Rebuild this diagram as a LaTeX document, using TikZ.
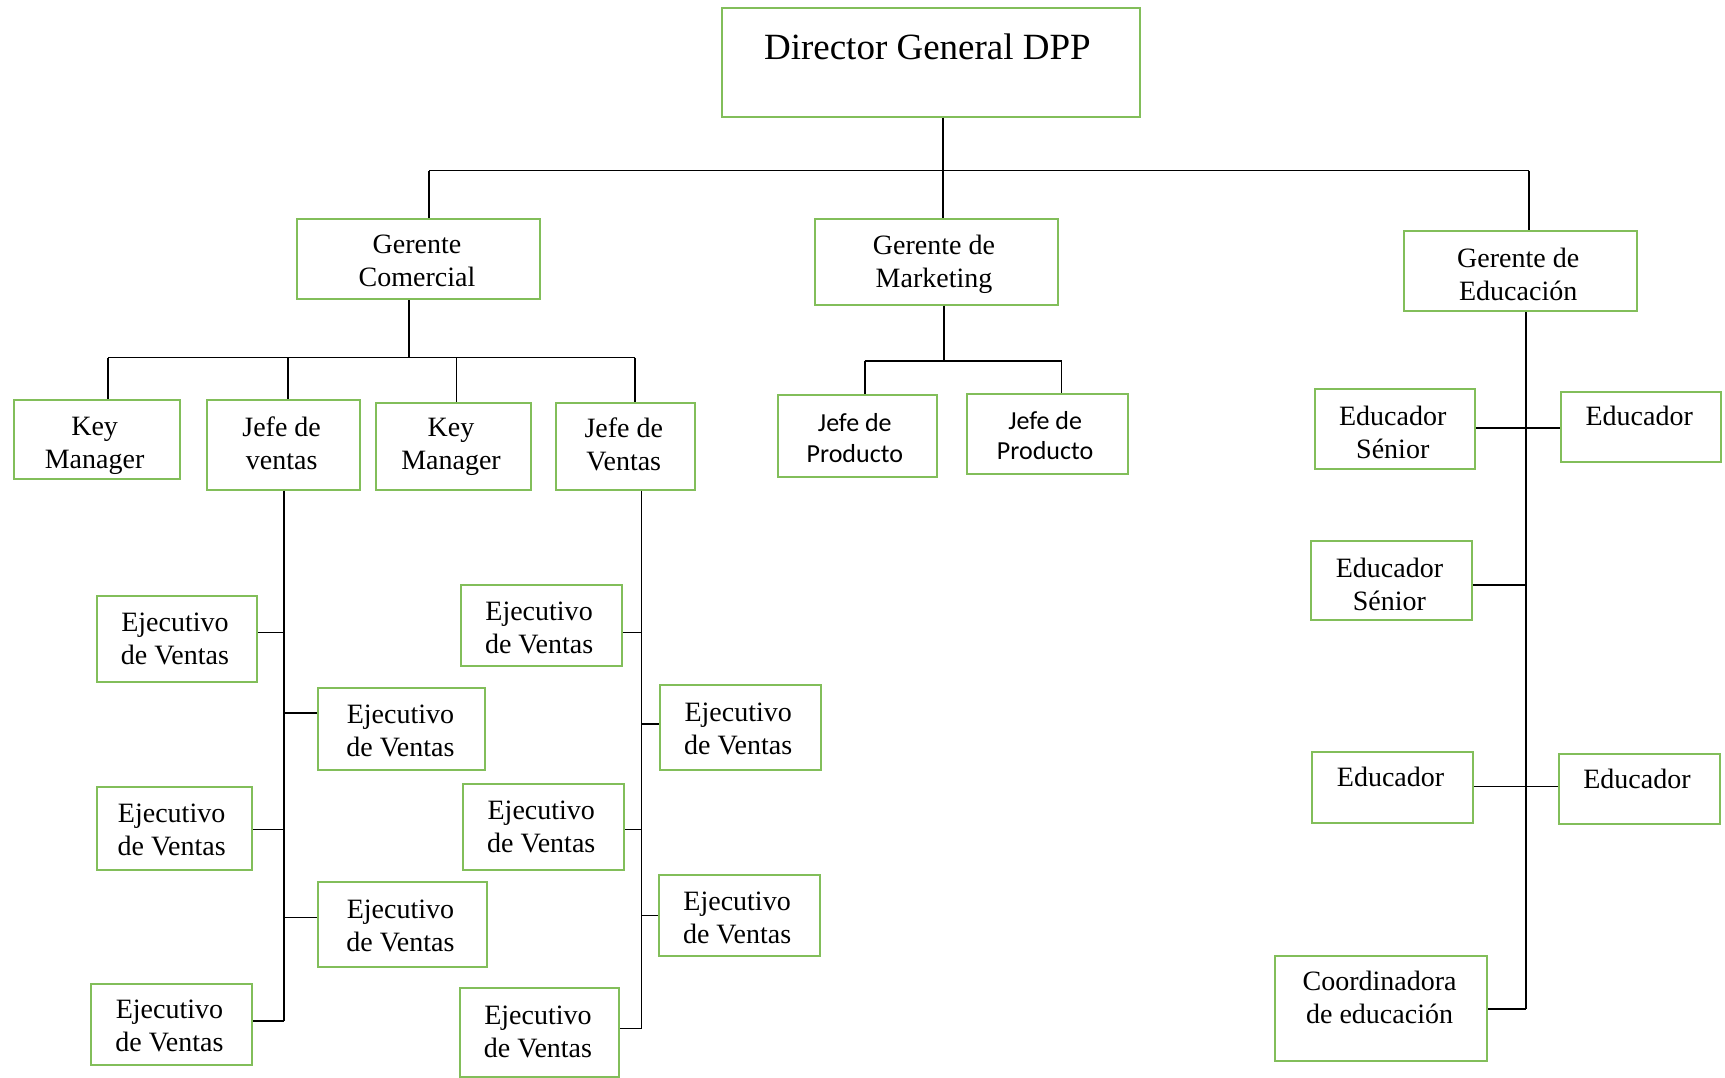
\documentclass[tikz,border=0pt]{standalone}
\usepackage{fontspec}
\setmainfont{Liberation Serif}
\newfontfamily\calib{Carlito}
\usetikzlibrary{fit}
\definecolor{bx}{RGB}{130,190,90}
\newcommand\bxn[5]{\node[box,fit={(#2,#3)(#4,#5)}] (#1) {};}
\begin{document}
\begin{tikzpicture}[x=0.55pt,y=-0.55pt,
 box/.style={draw=bx,line width=1pt,inner sep=0pt},
 txt/.style={align=center,font=\fontsize{14}{16.5}\selectfont,inner sep=0pt},
 stxt/.style={align=center,font=\calib\fontsize{13}{15.4}\selectfont,inner sep=0pt},
 ln/.style={line width=0.8pt,black}]
\useasboundingbox (0,0) rectangle (1568,979);
% boxes
\bxn{dir}{656}{7}{1036}{106}
\bxn{gc}{270}{199}{491}{272}
\bxn{gm}{741}{199}{962}{277}
\bxn{ge}{1276}{210}{1488}{283}
\bxn{km1}{13}{364}{164}{435}
\bxn{jv1}{188}{364}{327}{445}
\bxn{km2}{342}{366}{483}{445}
\bxn{jv2}{505}{366}{632}{445}
\bxn{jp1}{707}{359}{852}{434}
\bxn{jp2}{879}{358}{1025}{431}
\bxn{es1}{1195}{354}{1341}{426}
\bxn{ed1}{1419}{356}{1564}{420}
\bxn{es2}{1192}{492}{1338}{564}
\bxn{ed2}{1193}{684}{1339}{748}
\bxn{ed3}{1417}{685}{1563}{749}
\bxn{co}{1159}{869}{1352}{964}
\bxn{a1}{88}{542}{234}{620}
\bxn{a2}{289}{625}{441}{700}
\bxn{a3}{88}{715}{229}{791}
\bxn{a4}{289}{802}{443}{879}
\bxn{a5}{83}{894}{229}{968}
\bxn{b1}{419}{532}{565}{605}
\bxn{b2}{600}{623}{746}{700}
\bxn{b3}{421}{713}{567}{791}
\bxn{b4}{599}{795}{745}{869}
\bxn{b5}{418}{898}{563}{979}
% texts
\node[txt,font=\fontsize{18.5}{22}\selectfont] (dirt) at (843,43) {Director General DPP};
\node[txt] (gct) at (379,237) {Gerente\\Comercial};
\node[txt] (gmt) at (849,240) {Gerente de\\Marketing};
\node[txt] (get) at (1380,249) {Gerente de\\Educación};
\node[txt] (km1t) at (86,405) {Key\\Manager};
\node[txt] (jv1t) at (256,403) {Jefe de\\ventas};
\node[txt] (km2t) at (410,406) {Key\\Manager};
\node[txt] (jv2t) at (567,404) {Jefe de\\Ventas};
\node[stxt] (jp1t) at (777,398) {Jefe de\\Producto};
\node[stxt] (jp2t) at (950,396) {Jefe de\\Producto};
\node[txt] (es1t) at (1266,393) {Educador\\Sénior};
\node[txt] (ed1t) at (1490,378) {Educador};
\node[txt] (es2t) at (1263,531) {Educador\\Sénior};
\node[txt] (ed2t) at (1264,706) {Educador};
\node[txt] (ed3t) at (1488,708) {Educador};
\node[txt] (cot) at (1254,907) {Coordinadora\\de educación};
\node[txt] (a1t) at (159,581) {Ejecutivo\\de Ventas};
\node[txt] (a2t) at (364,664) {Ejecutivo\\de Ventas};
\node[txt] (a3t) at (156,754) {Ejecutivo\\de Ventas};
\node[txt] (a4t) at (364,842) {Ejecutivo\\de Ventas};
\node[txt] (a5t) at (154,933) {Ejecutivo\\de Ventas};
\node[txt] (b1t) at (490,571) {Ejecutivo\\de Ventas};
\node[txt] (b2t) at (671,663) {Ejecutivo\\de Ventas};
\node[txt] (b3t) at (492,752) {Ejecutivo\\de Ventas};
\node[txt] (b4t) at (670,834) {Ejecutivo\\de Ventas};
\node[txt] (b5t) at (489,938) {Ejecutivo\\de Ventas};
% top level
\coordinate (c0) at (857,155);
\coordinate (c1) at (390,155);
\coordinate (c2) at (1390,155);
\draw[ln] (c0 |- dir.south) -- (c0 |- gm.north);
\draw[ln] (c1) -- (c2);
\draw[ln] (c1) -- (c1 |- gc.north);
\draw[ln] (c2) -- (c2 |- ge.north);
% gerente comercial
\coordinate (d0) at (372,325);
\coordinate (d1) at (98,325);
\coordinate (d2) at (262,325);
\coordinate (d3) at (415,325);
\coordinate (d4) at (577,325);
\draw[ln] (d0 |- gc.south) -- (d0);
\draw[ln] (d1) -- (d4);
\draw[ln] (d1) -- (d1 |- km1.north);
\draw[ln] (d2) -- (d2 |- jv1.north);
\draw[ln] (d3) -- (d3 |- km2.north);
\draw[ln] (d4) -- (d4 |- jv2.north);
% marketing
\coordinate (m0) at (858,328);
\coordinate (m1) at (786,328);
\coordinate (m2) at (965,328);
\draw[ln] (m0 |- gm.south) -- (m0);
\draw[ln] (m1) -- (m2);
\draw[ln] (m1) -- (m1 |- jp1.north);
\draw[ln] (m2) -- (m2 |- jp2.north);
% educacion
\coordinate (e0) at (1387,917);
\coordinate (e1) at (1387,389);
\coordinate (e2) at (1387,532);
\coordinate (e3) at (1387,715);
\draw[ln] (e0 |- ge.south) -- (e0);
\draw[ln] (e1 -| es1.east) -- (e1 -| ed1.west);
\draw[ln] (e2 -| es2.east) -- (e2);
\draw[ln] (e3 -| ed2.east) -- (e3 -| ed3.west);
\draw[ln] (e0 -| co.east) -- (e0);
% jefe de ventas column
\coordinate (s1) at (258,928);
\draw[ln] (s1 |- jv1.south) -- (s1);
\coordinate (s1a) at (258,575);
\coordinate (s1b) at (258,648);
\coordinate (s1c) at (258,754);
\coordinate (s1d) at (258,834);
\draw[ln] (s1a) -- (s1a -| a1.east);
\draw[ln] (s1b) -- (s1b -| a2.west);
\draw[ln] (s1c) -- (s1c -| a3.east);
\draw[ln] (s1d) -- (s1d -| a4.west);
\draw[ln] (s1) -- (s1 -| a5.east);
% jefe de Ventas column
\coordinate (s2) at (583,935);
\draw[ln] (s2 |- jv2.south) -- (s2);
\coordinate (s2a) at (583,575);
\coordinate (s2b) at (583,658);
\coordinate (s2c) at (583,754);
\coordinate (s2d) at (583,832);
\draw[ln] (s2a) -- (s2a -| b1.east);
\draw[ln] (s2b) -- (s2b -| b2.west);
\draw[ln] (s2c) -- (s2c -| b3.east);
\draw[ln] (s2d) -- (s2d -| b4.west);
\draw[ln] (s2) -- (s2 -| b5.east);
\end{tikzpicture}
\end{document}
